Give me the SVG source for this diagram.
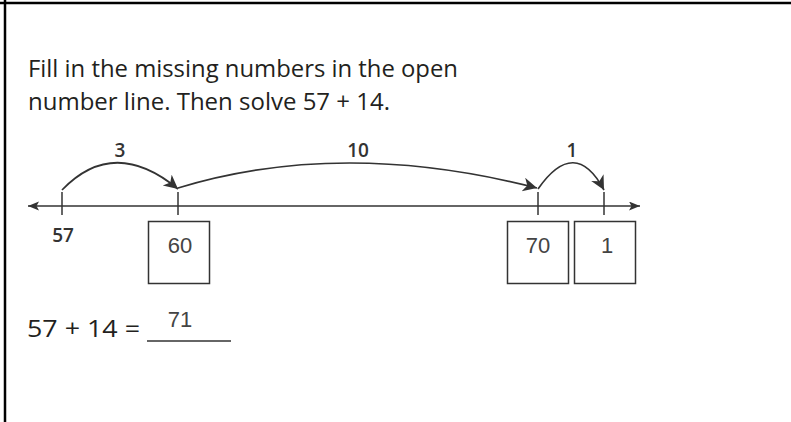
<svg xmlns="http://www.w3.org/2000/svg" width="791" height="422" viewBox="0 0 791 422">
<style>
.frame{stroke:#000;stroke-width:2.5;fill:none}
.title{font-family:"Open Sans","Noto Sans",sans-serif;font-size:24px;font-weight:500;fill:#231f20}
.lbl{font-family:"Open Sans","Noto Sans",sans-serif;font-size:19px;font-weight:600;fill:#333;text-anchor:middle}
.box{fill:#fff;stroke:#333;stroke-width:1.5}
.boxtxt{font-family:"Liberation Sans",Arial,sans-serif;font-size:22px;fill:#444;text-anchor:middle}
.axis{stroke:#333;stroke-width:1.5;fill:none}
.tick{stroke:#333;stroke-width:1.5}
.arc{stroke:#333;stroke-width:1.7;fill:none;marker-end:url(#ah)}
</style>
<defs>
<marker id="ah" markerUnits="userSpaceOnUse" markerWidth="18" markerHeight="16" refX="14" refY="7" orient="auto">
<path d="M0,0 L14,7 L0,14 L4,7 z" fill="#333"/>
</marker>
<marker id="lh" markerUnits="userSpaceOnUse" markerWidth="14" markerHeight="10" refX="11" refY="4.5" orient="auto-start-reverse">
<path d="M0,0 L11,4.5 L0,9 L2.5,4.5 z" fill="#333"/>
</marker>
</defs>
<rect width="791" height="422" fill="#fff"/>
<g id="frame">
<line class="frame" x1="0" y1="3" x2="791" y2="3"/>
<line class="frame" x1="5" y1="0" x2="5" y2="422"/>
</g>
<g id="title">
<text class="title" x="28" y="77" textLength="430" lengthAdjust="spacingAndGlyphs">Fill in the missing numbers in the open</text>
<text class="title" x="28" y="110" textLength="362" lengthAdjust="spacingAndGlyphs">number line. Then solve 57 + 14.</text>
</g>
<g id="numberline">
<line class="axis" x1="28" y1="206" x2="640" y2="206" marker-start="url(#lh)" marker-end="url(#lh)"/>
<line class="tick" x1="62" y1="192" x2="62" y2="215"/>
<line class="tick" x1="178" y1="192" x2="178" y2="215"/>
<line class="tick" x1="538" y1="192" x2="538" y2="215"/>
<line class="tick" x1="604" y1="192" x2="604" y2="215"/>
</g>
<g id="connectors">
<path class="arc" d="M62,190 Q114,136 178,189"/>
<path class="arc" d="M178,188 Q342,138 537,188"/>
<path class="arc" d="M538,189 Q575,136 604,190"/>
</g>
<g id="jump-labels">
<text class="lbl" x="120" y="157">3</text>
<text class="lbl" x="358" y="157">10</text>
<text class="lbl" x="572" y="157">1</text>
</g>
<g id="node-57">
<text class="lbl" x="63" y="242">57</text>
</g>
<g id="node-60">
<rect class="box" x="148.5" y="221.5" width="61" height="62"/>
<text class="boxtxt" x="180" y="253">60</text>
</g>
<g id="node-70">
<rect class="box" x="507.5" y="221.5" width="61" height="62"/>
<text class="boxtxt" x="538" y="253">70</text>
</g>
<g id="node-1">
<rect class="box" x="574.5" y="221.5" width="61" height="62"/>
<text class="boxtxt" x="607" y="253">1</text>
</g>
<g id="equation">
<text class="title" x="27" y="337" textLength="113" lengthAdjust="spacingAndGlyphs">57 + 14 =</text>
<line x1="147" y1="341" x2="231" y2="341" stroke="#333" stroke-width="1.5"/>
<text class="boxtxt" x="180" y="327">71</text>
</g>
</svg>
